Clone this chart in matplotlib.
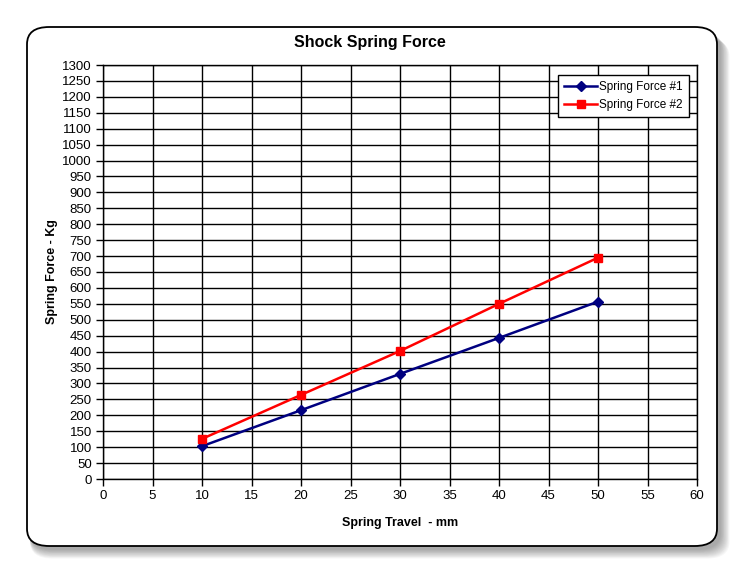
import matplotlib
matplotlib.use("Agg")
import matplotlib.pyplot as plt
from matplotlib.patches import FancyBboxPatch

plt.rcParams["font.family"] = ["Liberation Sans", "DejaVu Sans"]

travel = [10, 20, 30, 40, 50]
force_1 = [103, 216, 330, 443, 557]
force_2 = [126, 264, 402, 550, 695]
x_ticks = list(range(0, 61, 5))
y_ticks = list(range(0, 1301, 50))

W, H = 743, 573
fig = plt.figure(figsize=(W / 100, H / 100), dpi=100)

# soft shadow + rounded chart frame
for i in range(12, 0, -1):
    fig.patches.append(FancyBboxPatch(
        ((27 + 3) / W, (H - 546 - 3 - i * 0.8) / H), (690 + i * 0.8) / W, (519) / H,
        boxstyle="round,pad=0,rounding_size=0.03", transform=fig.transFigure,
        fc="black", ec="none", alpha=0.03, zorder=0))
fig.patches.append(FancyBboxPatch(
    (27 / W, (H - 546) / H), 690 / W, 519 / H,
    boxstyle="round,pad=0,rounding_size=0.03", transform=fig.transFigure,
    fc="white", ec="black", lw=1.3, zorder=1))

ax = fig.add_axes([103 / W, 1 - 479 / H, 594 / W, 414 / H])
ax.set_zorder(2)
ax.set_facecolor("white")
ax.plot(travel, force_1, color="#000080", lw=1.8, marker="D", ms=5, label="Spring Force #1", clip_on=False)
ax.plot(travel, force_2, color="#ff0000", lw=1.8, marker="s", ms=6, label="Spring Force #2", clip_on=False)

ax.set_xlim(0, 60)
ax.set_ylim(0, 1300)
ax.set_xticks(x_ticks)
ax.set_yticks(y_ticks)
ax.grid(True, color="black", lw=1)
ax.set_axisbelow(True)
ax.tick_params(direction="out", length=5, width=1, labelsize=9.5, pad=3)
for s in ax.spines.values():
    s.set_color("black")
    s.set_linewidth(1)

ax.set_xlabel("Spring Travel  - mm", fontsize=9, fontweight="bold", labelpad=11)
ax.set_ylabel("Spring Force - Kg", fontsize=9, fontweight="bold", labelpad=3)
fig.text(370 / W, 1 - 42 / H, "Shock Spring Force", ha="center", va="center",
         fontsize=11.5, fontweight="bold", zorder=3)

leg = ax.legend(loc="upper right", bbox_to_anchor=(586 / 594, 1 - 10 / 414), fontsize=8.5,
                frameon=True, fancybox=False, edgecolor="black", framealpha=1,
                handlelength=2.8, borderpad=0.5, labelspacing=0.55, handletextpad=0.2,
                borderaxespad=0)
leg.get_frame().set_linewidth(1)

fig.savefig("out.png", dpi=100)
